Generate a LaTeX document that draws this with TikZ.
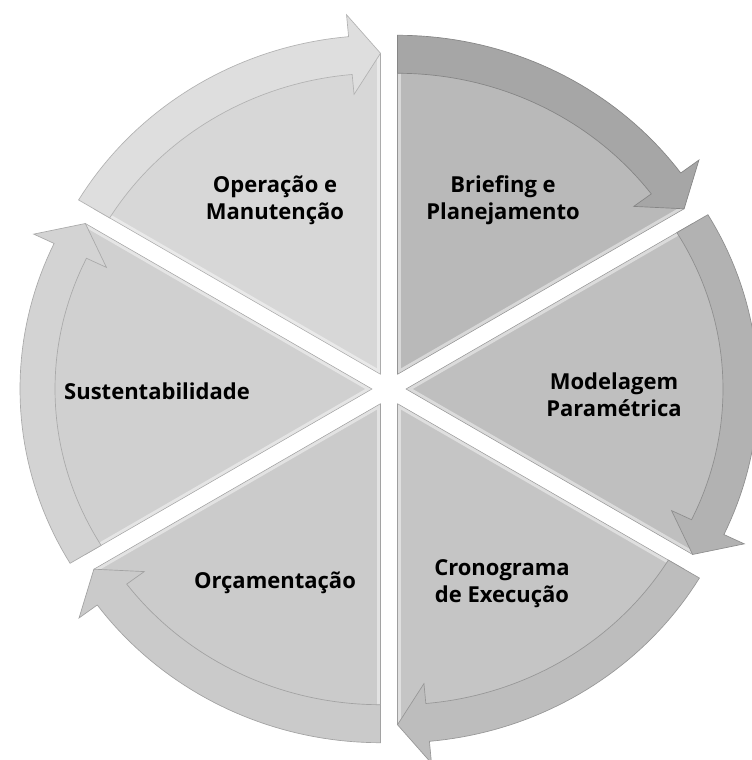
\documentclass[tikz,border=0pt]{standalone}
\usepackage{fontspec}
\setmainfont{Open Sans}
\definecolor{bandA}{HTML}{A6A6A6}
\definecolor{wedgeA}{HTML}{B9B9B9}
\definecolor{bandB}{HTML}{B2B2B2}
\definecolor{wedgeB}{HTML}{BFBFBF}
\definecolor{bandC}{HTML}{BDBDBD}
\definecolor{wedgeC}{HTML}{C5C5C5}
\definecolor{bandD}{HTML}{CACACA}
\definecolor{wedgeD}{HTML}{CBCBCB}
\definecolor{bandE}{HTML}{D3D3D3}
\definecolor{wedgeE}{HTML}{D0D0D0}
\definecolor{bandF}{HTML}{DEDEDE}
\definecolor{wedgeF}{HTML}{D7D7D7}
\begin{document}
\begin{tikzpicture}[x=75pt,y=75pt,
  declare function={er(\q,\A,\B)=\A*\B/sqrt((\B*cos(\q))^2+(\A*sin(\q))^2);},
  lbl/.style={font=\fontsize{16.5}{20.25}\selectfont\bfseries, align=center, text=black},
  bevel/.style={draw=white, opacity=0.45, line width=5pt, line join=round}]
\useasboundingbox (0,0) rectangle (7.52,7.60);
\fill[white] (0,0) rectangle (7.52,7.60);
\begin{scope}
\clip (0,0) rectangle (7.52,7.60);
\foreach \sa/\ea/\bc/\wc/\nm in {90/30/bandA/wedgeA/a, 30/-30/bandB/wedgeB/b, -30/-90/bandC/wedgeC/c, -90/-150/bandD/wedgeD/d, -150/-210/bandE/wedgeE/e, 150/90/bandF/wedgeF/f}{
  \pgfmathsetmacro\bet{(\sa+\ea)/2}
  \pgfmathsetmacro\px{3.89+0.17*cos(\bet)}
  \pgfmathsetmacro\py{3.71+0.17*sin(\bet)}
  \pgfmathsetmacro\hb{\ea+5.4}
  \coordinate (apex\nm) at (\px,\py);
  \fill[fill=\wc]
    (apex\nm) -- plot[domain=\sa:\ea, samples=40, variable=\ang] ({\px+er(\ang,3.345,3.21)*cos(\ang)},{\py+er(\ang,3.345,3.21)*sin(\ang)}) -- cycle;
  \begin{scope}
    \clip (apex\nm) -- plot[domain=\sa:\ea, samples=40, variable=\ang] ({\px+er(\ang,3.345,3.21)*cos(\ang)},{\py+er(\ang,3.345,3.21)*sin(\ang)}) -- cycle;
    \draw[bevel] (apex\nm) -- plot[domain=\sa:\ea, samples=40, variable=\ang] ({\px+er(\ang,3.345,3.21)*cos(\ang)},{\py+er(\ang,3.345,3.21)*sin(\ang)}) -- cycle;
  \end{scope}
  \draw[draw=\wc!80!black, line width=0.4pt, line join=round]
    (apex\nm) -- plot[domain=\sa:\ea, samples=40, variable=\ang] ({\px+er(\ang,3.345,3.21)*cos(\ang)},{\py+er(\ang,3.345,3.21)*sin(\ang)}) -- cycle;
  \filldraw[fill=\bc, draw=\bc!80!black, line width=0.5pt, line join=miter]
    plot[domain=\sa:\hb, samples=40, variable=\ang] ({\px+er(\ang,3.52,3.39)*cos(\ang)},{\py+er(\ang,3.52,3.39)*sin(\ang)})
    -- ({\px+(er(\hb,3.345,3.21)+0.40)*cos(\hb)},{\py+(er(\hb,3.345,3.21)+0.40)*sin(\hb)})
    -- ({\px+er(\ea,3.345,3.21)*cos(\ea)},{\py+er(\ea,3.345,3.21)*sin(\ea)})
    -- ({\px+(er(\hb,3.345,3.21)-0.40)*cos(\hb)},{\py+(er(\hb,3.345,3.21)-0.40)*sin(\hb)})
    -- plot[domain=\hb:\sa, samples=40, variable=\ang] ({\px+er(\ang,3.17,3.01)*cos(\ang)},{\py+er(\ang,3.17,3.01)*sin(\ang)})
    -- cycle;
}
\end{scope}
\node[lbl] (ta) at (5.03,5.595) {Briefing e\\Planejamento};
\node[lbl] (tb) at (6.14,3.655) {Modelagem\\Paramétrica};
\node[lbl] (tc) at (5.02,1.765) {Cronograma\\de Execução};
\node[lbl] (td) at (2.75,1.77) {Orçamentação};
\node[lbl] (te) at (1.57,3.69) {Sustentabilidade};
\node[lbl] (tf) at (2.75,5.595) {Operação e\\Manutenção};
\end{tikzpicture}
\end{document}
